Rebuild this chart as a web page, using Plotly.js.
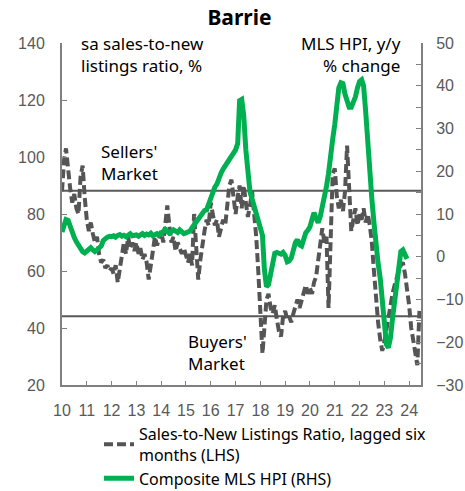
<!DOCTYPE html>
<html>
<head>
<meta charset="utf-8">
<script src="https://cdn.plot.ly/plotly-3.0.1.min.js"></script>
<style>
  html, body { margin: 0; padding: 0; background: #ffffff; }
  #chart { width: 465px; height: 491px; }
</style>
</head>
<body>
<div id="chart"></div>
<script>
// ---- Data (monthly, starting January 2010) ----
const startYear = 2010;
const yearLabels = ['10','11','12','13','14','15','16','17','18','19','20','21','22','23','24'];

// Sales-to-new listings ratio, lagged six months (LHS, %), Jan 2010 - Jun 2024
const snlrLagged = [
  88, 99, 103, 95, 89, 84, 87, 82, 80, 93, 97, 86,      // 2010
  78, 74, 77, 73, 70, 72, 66, 63, 64, 61, 62, 60,       // 2011
  61, 59, 62, 56, 60, 64, 70, 66, 72, 68, 70, 67,       // 2012
  70, 66, 68, 64, 66, 63, 57, 62, 68, 72, 69, 71,       // 2013
  74, 70, 76, 83, 76, 70, 72, 67, 70, 68, 66, 68,       // 2014
  65, 63, 66, 62, 80, 68, 57, 64, 70, 74, 78, 76,       // 2015
  84, 79, 76, 78, 72, 75, 78, 76, 84, 90, 92, 85,       // 2016
  80, 86, 90, 82, 90, 84, 79, 83, 88, 80, 72, 60,       // 2017
  46, 31, 40, 50, 52, 47, 45, 48, 43, 39, 37, 44,       // 2018
  46, 43, 44, 42, 45, 48, 50, 47, 50, 53, 55, 52,       // 2019
  54, 52, 56, 58, 64, 70, 75, 70, 72, 47, 72, 94,       // 2020
  96, 86, 82, 85, 81, 88, 104, 88, 74, 78, 82, 76,      // 2021
  80, 78, 82, 77, 80, 76, 70, 60, 50, 42, 36, 32,       // 2022
  35, 40, 44, 48, 52, 55, 58, 60, 62, 63, 59, 54,       // 2023
  48, 40, 36, 30, 27, 46                                // 2024
];

// Composite MLS HPI, y/y % change (RHS), Jan 2010 - Dec 2023
const hpiYoY = [
  5.8, 7.2, 8.7, 8.5, 7.0, 5.5, 4.5, 3.5, 2.7, 1.8, 1.2, 0.9,          // 2010
  1.2, 1.8, 2.1, 1.6, 1.2, 1.6, 2.1, 2.5, 3.8, 4.4, 4.6, 4.8,          // 2011
  4.7, 4.9, 4.6, 5.0, 5.2, 4.8, 5.0, 4.7, 5.2, 5.4, 4.9, 5.1,          // 2012
  5.1, 4.8, 5.2, 5.4, 5.0, 5.3, 5.1, 5.5, 4.9, 5.2, 5.4, 5.1,          // 2013
  5.4, 5.9, 6.4, 5.7, 5.5, 5.9, 6.3, 6.0, 5.7, 6.3, 5.9, 5.4,          // 2014
  5.6, 5.8, 6.0, 6.8, 7.5, 8.2, 8.8, 9.8, 10.5, 10.8, 11.0, 12.5,      // 2015
  14.0, 15.3, 16.3, 17.0, 18.5, 19.6, 20.5, 21.3, 22.0, 22.8, 23.6, 24.4, // 2016
  25.0, 26.5, 36.5, 36.8, 33.0, 25.0, 19.0, 15.2, 13.5, 12.0, 10.5, 9.0, // 2017
  7.0, 5.0, -3.0, -7.0, -6.5, -3.5, -0.5, 0.8, 1.0, 0.8, 0.6, 1.0,     // 2018
  0.3, -1.2, -1.0, -0.3, 1.5, 3.3, 4.0, 2.8, 2.5, 4.2, 5.6, 6.2,       // 2019
  7.0, 8.8, 10.3, 9.0, 8.0, 9.4, 11.5, 14.5, 16.5, 19.5, 22.7, 27.5,   // 2020
  31.0, 36.0, 39.5, 40.7, 40.5, 38.0, 36.0, 35.0, 35.0, 36.0, 37.4, 39.5, // 2021
  41.0, 41.4, 40.0, 34.0, 26.0, 19.0, 13.5, 8.0, 2.5, -1.5, -5.0, -10.5, // 2022
  -16.0, -20.5, -21.3, -19.0, -14.5, -10.0, -5.8, -1.5, 1.2, 1.6, 0.5, -0.5 // 2023
];

// Market thresholds on the LHS scale
const sellersThreshold = 88.2;
const buyersThreshold = 44.1;

// ---- Helpers ----
function monthDates(n) {
  const out = [];
  for (let i = 0; i < n; i++) {
    const y = startYear + Math.floor(i / 12);
    const m = (i % 12) + 1;
    out.push(y + '-' + (m < 10 ? '0' + m : m) + '-01');
  }
  return out;
}
const yearTicks = yearLabels.map((_, i) => (startYear + i) + '-01-01');

const txtFont = 'Noto Sans, Open Sans, sans-serif';
const numFont = 'Liberation Sans, Arial, sans-serif';
const grey = '#595959';
const axisGrey = '#808080';

const traces = [
  {
    x: monthDates(snlrLagged.length),
    y: snlrLagged,
    type: 'scatter',
    mode: 'lines',
    name: 'Sales-to-New Listings Ratio, lagged six<br>months (LHS)',
    line: { color: '#555555', width: 4, dash: '9px,4px' },
    yaxis: 'y'
  },
  {
    x: monthDates(hpiYoY.length),
    y: hpiYoY,
    type: 'scatter',
    mode: 'lines',
    name: 'Composite MLS HPI (RHS)',
    line: { color: '#00B050', width: 5 },
    yaxis: 'y2'
  }
];

const layout = {
  width: 465,
  height: 491,
  margin: { l: 62, r: 44, t: 43, b: 106, autoexpand: false },
  paper_bgcolor: '#ffffff',
  plot_bgcolor: '#ffffff',
  showlegend: true,
  title: {
    text: '<b>Barrie</b>',
    font: { family: txtFont, size: 21, color: '#000000' },
    x: 0.515, xanchor: 'center',
    y: 0.965, yanchor: 'middle'
  },
  xaxis: {
    type: 'date',
    range: ['2010-01-01', '2024-06-24'],
    tickmode: 'array',
    tickvals: yearTicks,
    ticktext: yearLabels,
    ticks: 'inside',
    ticklen: 4,
    tickwidth: 1,
    tickcolor: axisGrey,
    showline: true,
    linecolor: axisGrey,
    linewidth: 2,
    showgrid: false,
    zeroline: false,
    ticklabelstandoff: 10,
    tickfont: { family: numFont, size: 16, color: grey }
  },
  yaxis: {
    range: [20, 140],
    dtick: 20,
    tick0: 20,
    ticks: 'inside',
    ticklen: 5,
    tickwidth: 1,
    tickcolor: axisGrey,
    showline: true,
    linecolor: axisGrey,
    linewidth: 2,
    showgrid: false,
    zeroline: false,
    ticklabelstandoff: 12,
    tickfont: { family: numFont, size: 16, color: grey }
  },
  yaxis2: {
    range: [-30, 50],
    dtick: 10,
    tick0: 0,
    overlaying: 'y',
    side: 'right',
    ticks: 'inside',
    ticklen: 5,
    tickwidth: 1,
    tickcolor: axisGrey,
    minor: { dtick: 5, ticks: 'inside', ticklen: 5, tickcolor: axisGrey, tickwidth: 1 },
    showline: true,
    linecolor: axisGrey,
    linewidth: 2,
    showgrid: false,
    zeroline: false,
    ticklabelstandoff: 10,
    tickfont: { family: numFont, size: 16, color: grey }
  },
  shapes: [
    { type: 'line', xref: 'paper', x0: 0, x1: 1, yref: 'y', y0: sellersThreshold, y1: sellersThreshold,
      line: { color: grey, width: 2 }, layer: 'below' },
    { type: 'line', xref: 'paper', x0: 0, x1: 1, yref: 'y', y0: buyersThreshold, y1: buyersThreshold,
      line: { color: grey, width: 2 }, layer: 'below' }
  ],
  annotations: [
    { text: 'sa sales-to-new<br>listings ratio, %', xref: 'paper', yref: 'paper',
      x: 0.047, y: 0.966, xanchor: 'left', yanchor: 'middle', align: 'left', showarrow: false,
      font: { family: txtFont, size: 17, color: '#000000' } },
    { text: 'MLS HPI, y/y<br>% change', xref: 'paper', yref: 'paper',
      x: 0.95, y: 0.966, xanchor: 'right', yanchor: 'middle', align: 'right', showarrow: false,
      font: { family: txtFont, size: 17, color: '#000000' } },
    { text: "Sellers'<br>Market", xref: 'paper', yref: 'paper',
      x: 0.188, y: 0.651, xanchor: 'center', yanchor: 'middle', align: 'left', showarrow: false,
      font: { family: txtFont, size: 17, color: '#000000' } },
    { text: "Buyers'<br>Market", xref: 'paper', yref: 'paper',
      x: 0.4345, y: 0.095, xanchor: 'center', yanchor: 'middle', align: 'left', showarrow: false,
      font: { family: txtFont, size: 17, color: '#000000' } }
  ],
  legend: {
    xref: 'paper', x: 0.103, xanchor: 'left',
    yref: 'container', y: 0.151, yanchor: 'top',
    bgcolor: 'rgba(0,0,0,0)',
    borderwidth: 0,
    traceorder: 'normal',
    tracegroupgap: 0,
    font: { family: txtFont, size: 16, color: '#000000' }
  }
};

Plotly.newPlot('chart', traces, layout, { displayModeBar: false, staticPlot: true });
</script>
</body>
</html>
